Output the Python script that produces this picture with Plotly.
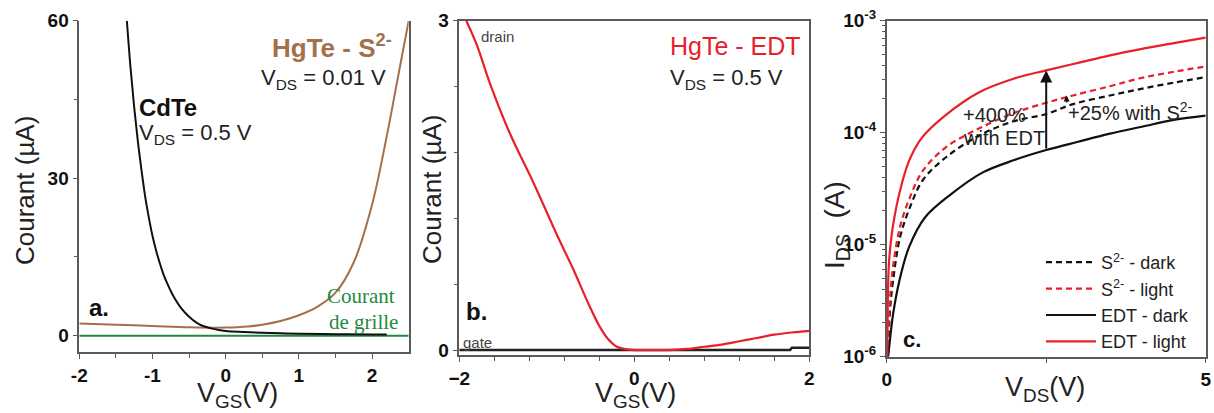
import math
import plotly.graph_objects as go

# ---------------- data ----------------
# Panel a : transfer curves, current in µA vs V_GS in V
a_cdte_vgs = [-1.35, -1.3, -1.25, -1.2, -1.15, -1.1, -1.05, -1.0, -0.95, -0.9, -0.85, -0.8, -0.75,
              -0.7, -0.6, -0.5, -0.4, -0.3, -0.2, -0.1, 0.0, 0.25, 0.5, 0.75, 1.0, 1.5, 2.0, 2.2]
a_cdte_i = [60, 51, 43.5, 37, 31.5, 26.5, 22.5, 19, 16.2, 13.8, 11.7, 10, 8.5,
            7.2, 5.1, 3.6, 2.5, 1.8, 1.4, 1.1, 0.9, 0.7, 0.55, 0.45, 0.38, 0.3, 0.25, 0.22]
a_hgte_vgs = [-2.0, -1.5, -1.0, -0.5, 0.0, 0.3, 0.5, 0.75, 1.0, 1.25, 1.5, 1.75, 2.0, 2.2, 2.35, 2.5]
a_hgte_i = [2.35, 2.1, 1.85, 1.6, 1.55, 1.75, 2.1, 2.8, 3.9, 5.5, 8.2, 14, 25, 38, 49, 60]
a_gate_vgs = [-2.0, 2.5]
a_gate_i = [0.0, 0.0]

# Panel b : HgTe - EDT, current in µA vs V_GS in V
b_drain_vgs = [-1.92, -1.8, -1.65, -1.42, -1.15, -0.89, -0.7, -0.54, -0.4, -0.3, -0.2, -0.1,
               0.0, 0.2, 0.4, 0.6, 0.8, 1.0, 1.2, 1.4, 1.6, 1.8, 2.0]
b_drain_i = [3.0, 2.78, 2.43, 1.97, 1.52, 1.06, 0.74, 0.45, 0.22, 0.1, 0.03, 0.008,
             0.0, 0.0, 0.0, 0.01, 0.03, 0.05, 0.08, 0.11, 0.14, 0.16, 0.175]
b_gate_vgs = [-2.0, 1.78, 1.8, 2.0]
b_gate_i = [0.0, 0.0, 0.02, 0.02]

# Panel c : output curves, I_DS in A vs V_DS in V
c_s_dark_vds = [0.02, 0.05, 0.1, 0.21, 0.37, 0.57, 0.94, 1.46, 1.98, 2.5, 2.92, 3.5, 3.97, 4.5, 5.0]
c_s_dark_i = [1.0e-6, 2.5e-6, 4.8e-6, 1.17e-5, 2.2e-5, 3.8e-5, 6.1e-5, 9.5e-5, 1.26e-4, 1.47e-4,
              1.8e-4, 2.15e-4, 2.45e-4, 2.8e-4, 3.13e-4]
c_s_light_vds = [0.015, 0.05, 0.1, 0.21, 0.37, 0.57, 0.94, 1.46, 1.98, 2.5, 2.92, 3.5, 3.97, 4.5, 5.0]
c_s_light_i = [1.0e-6, 3.2e-6, 6.4e-6, 1.45e-5, 2.7e-5, 4.6e-5, 7.5e-5, 1.1e-4, 1.49e-4, 1.85e-4,
               2.15e-4, 2.6e-4, 3.06e-4, 3.5e-4, 3.9e-4]
c_edt_dark_vds = [0.02, 0.03, 0.1, 0.2, 0.35, 0.6, 1.0, 1.5, 2.0, 2.5, 3.0, 3.5, 4.0, 4.5, 5.0]
c_edt_dark_i = [1.0e-6, 1.1e-6, 2.4e-6, 4.8e-6, 9.5e-6, 1.75e-5, 2.8e-5, 4.4e-5, 5.7e-5, 7.0e-5,
                8.3e-5, 9.8e-5, 1.13e-4, 1.3e-4, 1.42e-4]
c_edt_light_vds = [0.01, 0.03, 0.06, 0.1, 0.2, 0.35, 0.55, 0.9, 1.45, 2.0, 2.5, 3.0, 3.5, 4.0, 4.5, 5.0]
c_edt_light_i = [1.0e-6, 6e-6, 1.0e-5, 1.5e-5, 2.9e-5, 5.6e-5, 9.0e-5, 1.4e-4, 2.3e-4, 3.05e-4,
                 3.6e-4, 4.2e-4, 4.9e-4, 5.6e-4, 6.3e-4, 7.05e-4]

c_legend_names = ["S<sup>2-</sup> - dark", "S<sup>2-</sup> - light", "EDT - dark", "EDT - light"]

# ---------------- styling ----------------
W, H = 1214, 413
SANS = "Liberation Sans, Arial, sans-serif"
SERIF = "Liberation Serif, Times New Roman, serif"
RED = "#e8202a"
BROWN = "#a2714c"
GREEN = "#1f8a3e"
BLACK = "#111111"
AX = "#5a5a5a"
DASH = "6px,4px"


def px(x):
    return x / W


def py(y):
    return 1 - y / H


fig = go.Figure()

# panel a
fig.add_trace(go.Scatter(x=a_gate_vgs, y=a_gate_i, mode="lines", line=dict(color=GREEN, width=2),
                         xaxis="x", yaxis="y", showlegend=False))
fig.add_trace(go.Scatter(x=a_hgte_vgs, y=a_hgte_i, mode="lines", line=dict(color=BROWN, width=2, shape="spline"),
                         xaxis="x", yaxis="y", showlegend=False))
fig.add_trace(go.Scatter(x=a_cdte_vgs, y=a_cdte_i, mode="lines", line=dict(color=BLACK, width=2, shape="spline"),
                         xaxis="x", yaxis="y", showlegend=False))
# panel b
fig.add_trace(go.Scatter(x=b_gate_vgs, y=b_gate_i, mode="lines", line=dict(color="#222", width=2.5),
                         xaxis="x2", yaxis="y2", showlegend=False))
fig.add_trace(go.Scatter(x=b_drain_vgs, y=b_drain_i, mode="lines", line=dict(color=RED, width=2.2, shape="spline"),
                         xaxis="x2", yaxis="y2", showlegend=False))
# panel c
for vx, vy, col, dash, name in [
    (c_s_dark_vds, c_s_dark_i, BLACK, DASH, c_legend_names[0]),
    (c_s_light_vds, c_s_light_i, RED, DASH, c_legend_names[1]),
    (c_edt_dark_vds, c_edt_dark_i, BLACK, "solid", c_legend_names[2]),
    (c_edt_light_vds, c_edt_light_i, RED, "solid", c_legend_names[3]),
]:
    fig.add_trace(go.Scatter(x=vx, y=vy, mode="lines", name=name,
                             line=dict(color=col, width=2.2, dash=dash, shape="spline"),
                             xaxis="x3", yaxis="y3", showlegend=True))

tickfont = dict(family=SANS, size=19, color=BLACK, weight="bold")
common = dict(showline=True, linecolor=AX, linewidth=1.5, ticks="outside", ticklen=5, tickwidth=1.3,
              tickcolor=AX, showgrid=False, zeroline=False, tickfont=tickfont, fixedrange=True,
              automargin=False)

layout = dict(
    width=W, height=H, autosize=False,
    margin=dict(l=0, r=0, t=0, b=0, pad=0, autoexpand=False),
    paper_bgcolor="white", plot_bgcolor="white",
    font=dict(family=SANS, color=BLACK),
    xaxis=dict(domain=[px(79.3), px(408.7)], range=[-2, 2.5], anchor="y",
               tickvals=[-2, -1, 0, 1, 2], ticktext=["-2", "-1", "0", "1", "2"],
               minor=dict(tickvals=[-1.5, -0.5, 0.5, 1.5], ticks="outside", ticklen=4, tickcolor=AX),
               mirror=False, **common),
    yaxis=dict(domain=[py(352), py(20.7)], range=[-3.1, 60], anchor="x",
               tickvals=[0, 30, 60], minor=dict(tickvals=[15, 45], ticks="outside", ticklen=4, tickcolor=AX),
               mirror=True, **common),
    xaxis2=dict(domain=[px(459.3), px(809.3)], range=[-2, 2], anchor="y2",
                tickvals=[-2, 0, 2], minor=dict(tickvals=[-1.6, -1.2, -0.8, -0.4, 0.4, 0.8, 1.2, 1.6],
                                                ticks="outside", ticklen=4, tickcolor=AX),
                mirror=True, **common),
    yaxis2=dict(domain=[py(355), py(20.7)], range=[-0.045, 3], anchor="x2",
                tickvals=[0, 3], minor=dict(tickvals=[0.6, 1.2, 1.8, 2.4], ticks="outside", ticklen=4, tickcolor=AX),
                mirror=True, **common),
    xaxis3=dict(domain=[px(886.7), px(1205.7)], range=[0, 5], anchor="y3",
                tickvals=[0, 2.5, 5], ticktext=["0", "", "5"],
                mirror=True, **common),
    yaxis3=dict(domain=[py(356.7), py(20.7)], range=[-6, -3], type="log", anchor="x3",
                tickvals=[1e-6, 1e-5, 1e-4, 1e-3],
                ticktext=["10<sup>-6</sup>", "10<sup>-5</sup>", "10<sup>-4</sup>", "10<sup>-3</sup>"],
                minor=dict(tickvals=[m * 10 ** e for e in (-6, -5, -4) for m in range(2, 10)],
                           ticks="outside", ticklen=3, tickcolor=AX),
                mirror=True, **common),
    legend=dict(x=px(1041), y=py(244), xanchor="left", yanchor="top", bgcolor="rgba(0,0,0,0)",
                font=dict(family=SANS, size=18, color="#222"), tracegroupgap=0, itemwidth=50,
                borderwidth=0),
)
fig.update_layout(**layout)

ann = []


def txt(x, y, text, size, color="#222", bold=False, family=SANS, xanchor="center", angle=0):
    ann.append(dict(x=px(x), y=py(y), xref="paper", yref="paper", text=text, showarrow=False,
                    xanchor=xanchor, yanchor="middle", textangle=angle,
                    font=dict(family=family, size=size, color=color, weight="bold" if bold else "normal")))


# axis titles
txt(25, 191, "Courant (µA)", 26, angle=-90)
txt(432, 190, "Courant (µA)", 26, angle=-90)
txt(836, 225, "I<sub>DS</sub>  (A)", 28, angle=-90)
txt(237, 395, "V<sub>GS</sub>(V)", 27)
txt(635, 395, "V<sub>GS</sub>(V)", 27)
txt(1045, 389, "V<sub>DS</sub>(V)", 27)

# panel a texts
txt(394, 46, "HgTe - S<sup>2-</sup>", 26, color=BROWN, bold=True, xanchor="right")
txt(388, 79, "V<sub>DS</sub> = 0.01 V", 22, xanchor="right")
txt(137, 107, "CdTe", 24, color=BLACK, bold=True, xanchor="left")
txt(137, 134, "V<sub>DS</sub> = 0.5 V", 22, xanchor="left")
txt(87, 307, "a.", 24, color=BLACK, bold=True, xanchor="left")
txt(397, 296, "Courant", 21, color=GREEN, family=SERIF, xanchor="right")
txt(400, 322, "de grille", 21, color=GREEN, family=SERIF, xanchor="right")

# panel b texts
txt(479, 36, "drain", 15, color="#444", xanchor="left")
txt(461, 342, "gate", 15, color="#444", xanchor="left")
txt(464, 311, "b.", 24, color=BLACK, bold=True, xanchor="left")
txt(668, 46, "HgTe - EDT", 25, color=RED, xanchor="left")
txt(668, 79, "V<sub>DS</sub> = 0.5 V", 22, xanchor="left")

# panel c texts
txt(901, 339, "c.", 22, color=BLACK, bold=True, xanchor="left")
txt(961, 115, "+400%", 20, xanchor="left")
txt(961, 138, "with EDT", 20, xanchor="left")
txt(1066, 112, "+25% with S<sup>2-</sup>", 20, xanchor="left")

# arrows in panel c, built from the data at the marked voltages
i_big = c_edt_dark_vds.index(2.5)
j_big = c_edt_light_vds.index(2.5)
ann.append(dict(x=2.5, y=math.log10(c_edt_light_i[j_big]), ax=2.5, ay=math.log10(c_edt_dark_i[i_big]),
                xref="x3", yref="y3", axref="x3", ayref="y3", showarrow=True, arrowhead=2,
                arrowsize=1.2, arrowwidth=2, arrowcolor=BLACK, text=""))
i_s = c_s_dark_vds.index(2.92)
j_s = c_s_light_vds.index(2.92)
ann.append(dict(x=2.82, y=math.log10(c_s_light_i[j_s]), ax=2.82, ay=math.log10(c_s_dark_i[i_s]),
                xref="x3", yref="y3", axref="x3", ayref="y3", showarrow=True, arrowhead=2,
                arrowsize=0.8, arrowwidth=1.5, arrowcolor=BLACK, text=""))

fig.update_layout(annotations=ann)
fig.write_html("out.html", config={"displayModeBar": False},
               post_script="document.body.style.margin='0';document.body.style.overflow='hidden';")
